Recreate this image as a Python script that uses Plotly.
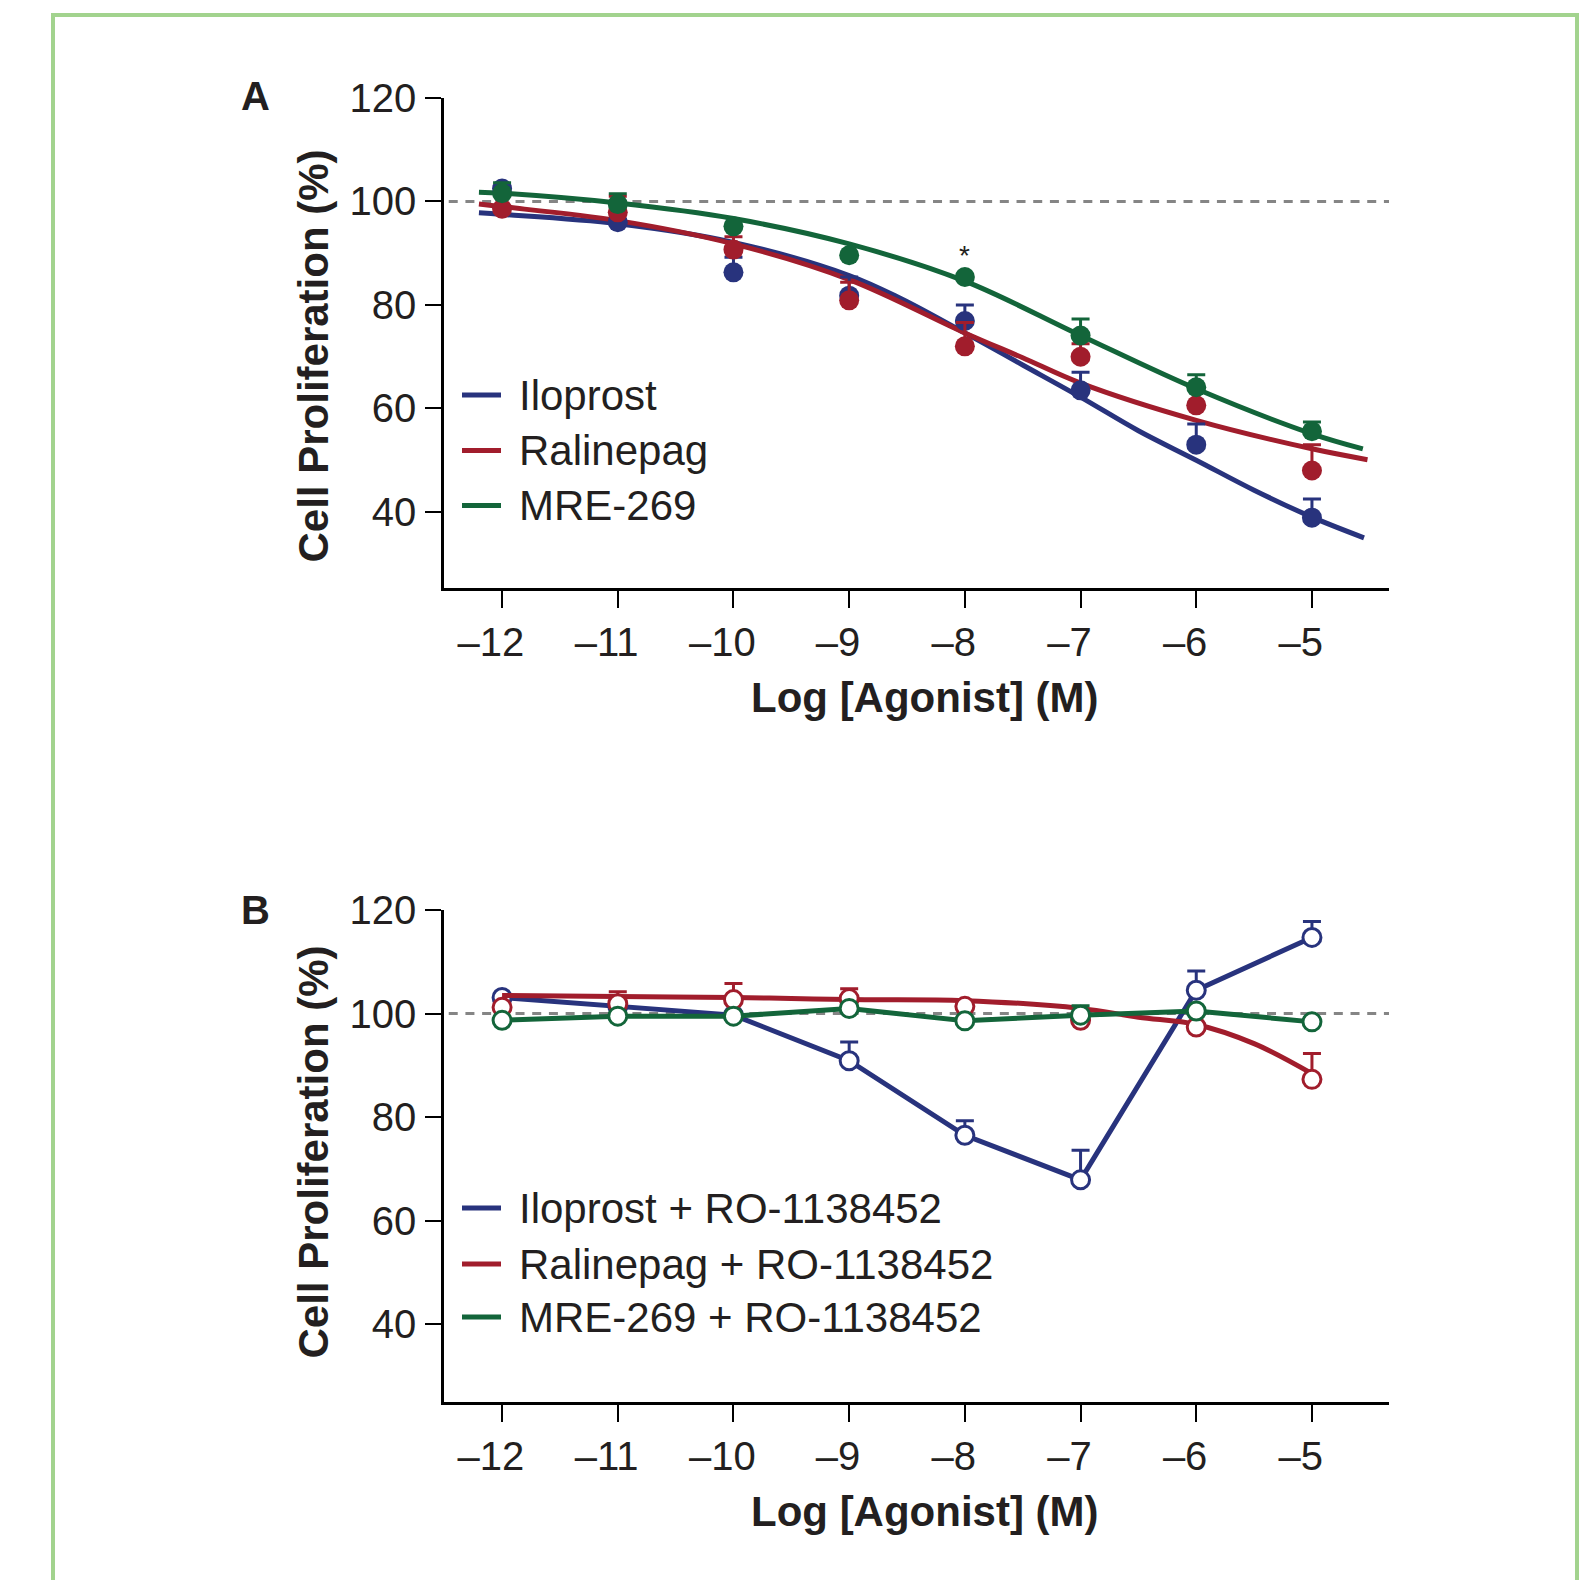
import plotly.graph_objects as go

W, H = 1594, 1580

# ---------------- data ----------------
log_conc = [-12, -11, -10, -9, -8, -7, -6, -5]
x_tickdigits = ["12", "11", "10", "9", "8", "7", "6", "5"]
y_tickvals = [40, 60, 80, 100, 120]

# Panel A: agonists alone (means and upper SEM)
iloprost_a = [102.5, 96.0, 86.3, 81.8, 76.9, 63.5, 53.0, 38.9]
iloprost_a_err = [0, 0, 2.9, 3.6, 3.1, 3.5, 4.0, 3.6]
ralinepag_a = [98.6, 97.9, 90.7, 80.9, 72.0, 70.0, 60.6, 48.0]
ralinepag_a_err = [0, 3.1, 2.5, 3.5, 4.6, 2.5, 0, 5.0]
mre269_a = [101.6, 99.5, 95.2, 89.6, 85.4, 74.1, 64.1, 55.6]
mre269_a_err = [2.0, 2.0, 0, 0, 0, 3.2, 2.4, 1.8]

# Panel A: fitted curves
iloprost_fit_x = [-12.2, -12, -11, -10, -9, -8.55, -8, -7.5, -7, -6.5, -6, -5.5, -5, -4.55]
iloprost_fit_y = [97.8, 97.5, 95.7, 92.1, 85.7, 81.2, 74.6, 68.4, 62.2, 55.7, 50.0, 44.2, 39.0, 35.0]
ralinepag_fit_x = [-12.2, -12, -11, -10, -9, -8, -7.5, -7, -6, -5, -4.52]
ralinepag_fit_y = [99.5, 99.0, 96.3, 91.8, 84.9, 74.6, 69.8, 64.9, 57.7, 52.2, 50.1]
mre269_fit_x = [-12.2, -12, -11, -10, -9, -8, -7, -6, -5, -4.56]
mre269_fit_y = [101.8, 101.6, 99.7, 96.7, 91.8, 84.6, 74.1, 63.8, 55.1, 52.2]

# Panel B: agonists + RO-1138452
iloprost_b = [103.1, 101.4, 99.7, 90.9, 76.5, 67.9, 104.5, 114.7]
iloprost_b_err = [0, 0, 0, 3.6, 2.8, 5.7, 3.7, 3.1]
ralinepag_b = [101.2, 101.9, 102.7, 102.9, 101.4, 98.7, 97.4, 87.3]
ralinepag_b_err = [0, 2.3, 3.1, 1.9, 0, 0, 0, 5.0]
mre269_b = [98.7, 99.5, 99.5, 101.0, 98.6, 99.7, 100.5, 98.4]
mre269_b_err = [0, 0, 0, 0, 0, 1.8, 0, 0]
ralinepag_b_fit_x = [-12, -11, -10, -9, -8, -7, -6.5, -6, -5.5, -5]
ralinepag_b_fit_y = [103.5, 103.3, 103.1, 102.7, 102.5, 101.0, 99.3, 97.9, 94.2, 88.4]

legend_a = ["Iloprost", "Ralinepag", "MRE-269"]
legend_b = ["Iloprost + RO-1138452", "Ralinepag + RO-1138452", "MRE-269 + RO-1138452"]

# ---------------- style ----------------
BLUE = "#28337d"
RED = "#a11d2c"
GREEN = "#13653a"
COLORS = [BLUE, RED, GREEN]
FONT = "Liberation Sans, Arial, Helvetica, sans-serif"
FRAME = "#a2d38e"

# digits centred on the tick, minus sign hanging to the left (as in the original)
x_ticktext = ["\u2013" + d + "<span style='color:rgba(0,0,0,0)'>\u2013</span>" for d in x_tickdigits]


def px(x):
    return x / W


def py(y):
    return 1 - y / H


fig = go.Figure()

# ---------- Panel A ----------
for fx, fy, c in [(iloprost_fit_x, iloprost_fit_y, BLUE),
                  (ralinepag_fit_x, ralinepag_fit_y, RED),
                  (mre269_fit_x, mre269_fit_y, GREEN)]:
    fig.add_trace(go.Scatter(x=fx, y=fy, mode="lines", xaxis="x", yaxis="y",
                             line=dict(color=c, width=5, shape="spline", smoothing=1.0),
                             showlegend=False, hoverinfo="skip"))

for vals, errs, c in [(iloprost_a, iloprost_a_err, BLUE),
                      (ralinepag_a, ralinepag_a_err, RED),
                      (mre269_a, mre269_a_err, GREEN)]:
    fig.add_trace(go.Scatter(x=log_conc, y=vals, mode="markers", xaxis="x", yaxis="y",
                             marker=dict(color=c, size=20, line=dict(width=0)),
                             error_y=dict(type="data", symmetric=False, array=errs,
                                          arrayminus=[0] * len(errs), color=c,
                                          thickness=3, width=9),
                             showlegend=False))

# ---------- Panel B ----------
fig.add_trace(go.Scatter(x=log_conc, y=iloprost_b, mode="lines+markers", xaxis="x2", yaxis="y2",
                         line=dict(color=BLUE, width=5),
                         marker=dict(color="white", size=18, line=dict(color=BLUE, width=3)),
                         error_y=dict(type="data", symmetric=False, array=iloprost_b_err,
                                      arrayminus=[0] * 8, color=BLUE, thickness=3, width=9),
                         showlegend=False))
fig.add_trace(go.Scatter(x=ralinepag_b_fit_x, y=ralinepag_b_fit_y, mode="lines", xaxis="x2", yaxis="y2",
                         line=dict(color=RED, width=5, shape="spline", smoothing=1.0),
                         showlegend=False, hoverinfo="skip"))
fig.add_trace(go.Scatter(x=log_conc, y=ralinepag_b, mode="markers", xaxis="x2", yaxis="y2",
                         marker=dict(color="white", size=18, line=dict(color=RED, width=3)),
                         error_y=dict(type="data", symmetric=False, array=ralinepag_b_err,
                                      arrayminus=[0] * 8, color=RED, thickness=3, width=9),
                         showlegend=False))
fig.add_trace(go.Scatter(x=log_conc, y=mre269_b, mode="lines+markers", xaxis="x2", yaxis="y2",
                         line=dict(color=GREEN, width=5),
                         marker=dict(color="white", size=18, line=dict(color=GREEN, width=3)),
                         error_y=dict(type="data", symmetric=False, array=mre269_b_err,
                                      arrayminus=[0] * 8, color=GREEN, thickness=3, width=9),
                         showlegend=False))

# ---------- axes ----------
x_dom = [px(444), px(1389)]
common_x = dict(range=[-12.502, -4.334], tickmode="array", tickvals=log_conc, ticktext=x_ticktext,
                showline=True, linecolor="black", linewidth=2.5, ticks="outside", ticklen=17,
                tickwidth=2, tickcolor="black", showgrid=False, zeroline=False, automargin=False,
                tickfont=dict(family=FONT, size=40, color="#231f20"), domain=x_dom, fixedrange=True)
common_y = dict(tickmode="array", tickvals=y_tickvals,
                showline=True, linecolor="black", linewidth=2.5, ticks="outside", ticklen=16,
                tickwidth=2, tickcolor="black", showgrid=False, zeroline=False, automargin=False,
                tickfont=dict(family=FONT, size=40, color="#231f20"), ticklabelstandoff=1,
                fixedrange=True)

fig.update_layout(
    xaxis=dict(common_x, anchor="y"),
    yaxis=dict(common_y, anchor="x", range=[25.3, 120], domain=[py(588), py(98)]),
    xaxis2=dict(common_x, anchor="y2"),
    yaxis2=dict(common_y, anchor="x2", range=[25.0, 120], domain=[py(1402), py(910)]),
)

shapes = []
# outer frame
shapes.append(dict(type="rect", xref="paper", yref="paper", x0=px(53), x1=px(1577),
                   y0=py(1620), y1=py(15), line=dict(color=FRAME, width=4), layer="below"))
# 100% reference lines
for xr, yr in [("x", "y"), ("x2", "y2")]:
    shapes.append(dict(type="line", xref=xr + " domain", yref=yr, x0=0.005, x1=1, y0=100, y1=100,
                       line=dict(color="#858585", width=3, dash="9px,7.7px"), layer="below"))

annotations = []
# legends
for names, rows in [(legend_a, [395, 450.5, 505.5]), (legend_b, [1208, 1264, 1317])]:
    for name, row, c in zip(names, rows, COLORS):
        shapes.append(dict(type="line", xref="paper", yref="paper", x0=px(462), x1=px(501),
                           y0=py(row), y1=py(row), line=dict(color=c, width=5)))
        annotations.append(dict(text=name, xref="paper", yref="paper", x=px(517), y=py(row),
                                xanchor="left", yanchor="middle", showarrow=False,
                                font=dict(family=FONT, size=42, color="#231f20")))

# axis titles
for cy in [697, 1511]:
    annotations.append(dict(text="<b>Log [Agonist] (M)</b>", xref="paper", yref="paper",
                            x=px(925), y=py(cy), xanchor="center", yanchor="middle", showarrow=False,
                            font=dict(family=FONT, size=42, color="#231f20")))
for cy in [356.5, 1152.5]:
    annotations.append(dict(text="<b>Cell Proliferation (%)</b>", xref="paper", yref="paper",
                            x=px(313), y=py(cy), xanchor="center", yanchor="middle", showarrow=False,
                            textangle=-90, font=dict(family=FONT, size=42, color="#231f20")))
# panel letters
for letter, cy in [("A", 96.5), ("B", 910)]:
    annotations.append(dict(text="<b>" + letter + "</b>", xref="paper", yref="paper",
                            x=px(256), y=py(cy), xanchor="center", yanchor="middle", showarrow=False,
                            font=dict(family=FONT, size=40, color="#231f20")))
# significance marker
annotations.append(dict(text="*", xref="x", yref="y", x=-8, y=89.6, xanchor="center",
                        yanchor="middle", showarrow=False,
                        font=dict(family=FONT, size=28, color="#231f20")))

fig.update_layout(
    width=W, height=H, autosize=False,
    margin=dict(l=0, r=0, t=0, b=0, pad=0, autoexpand=False),
    title=dict(text=""),
    paper_bgcolor="white", plot_bgcolor="white",
    showlegend=False,
    shapes=shapes, annotations=annotations,
    font=dict(family=FONT, color="#231f20"),
)

post_js = (
    "document.documentElement.style.margin='0';"
    "document.documentElement.style.padding='0';"
    "document.body.style.margin='0';"
    "document.body.style.padding='0';"
)

fig.write_html("out.html", post_script=post_js, config={"displayModeBar": False})
